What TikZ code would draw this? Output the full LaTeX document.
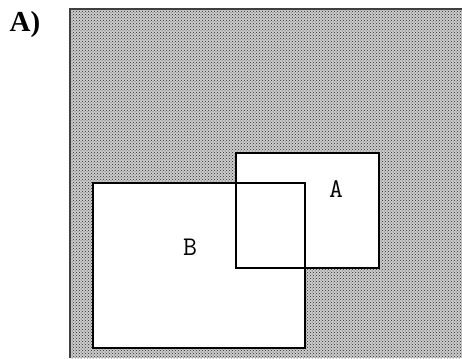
\documentclass[tikz,border=0pt]{standalone}
\usepackage{fontspec}
\setmainfont{Liberation Serif}
\usetikzlibrary{patterns}
\definecolor{setgray}{RGB}{205,205,205}
\definecolor{setdot}{RGB}{40,40,40}
\begin{document}
\begin{tikzpicture}[x=1pt,y=-1pt,line join=miter,
  setbox/.style={draw=black,line width=1.6pt,fill=white},
  setlabel/.style={font=\ttfamily\fontsize{27}{27}\selectfont,inner sep=0pt}]
 \useasboundingbox (0,0) rectangle (462,358);
 % universe
 \fill[setgray] (70,9) rectangle (462,358);
 \fill[pattern=crosshatch dots,pattern color=setdot] (70,9) rectangle (462,358);
 \draw[black!75,line width=2pt] (70,358)--(70,9)--(462,9);
 \node[font=\bfseries\fontsize{29}{29}\selectfont,inner sep=0pt] (tag) at (25,25) {A)};
 % sets
 \draw[setbox] (236,153) rectangle (379,268);
 \draw[setbox] (93,183) rectangle (305,348);
 \draw[black,line width=1.6pt] (236,183)--(236,268)--(305,268);
 \node[setlabel] (setA) at (336,189) {A};
 \node[setlabel] (setB) at (190,247) {B};
\end{tikzpicture}
\end{document}
